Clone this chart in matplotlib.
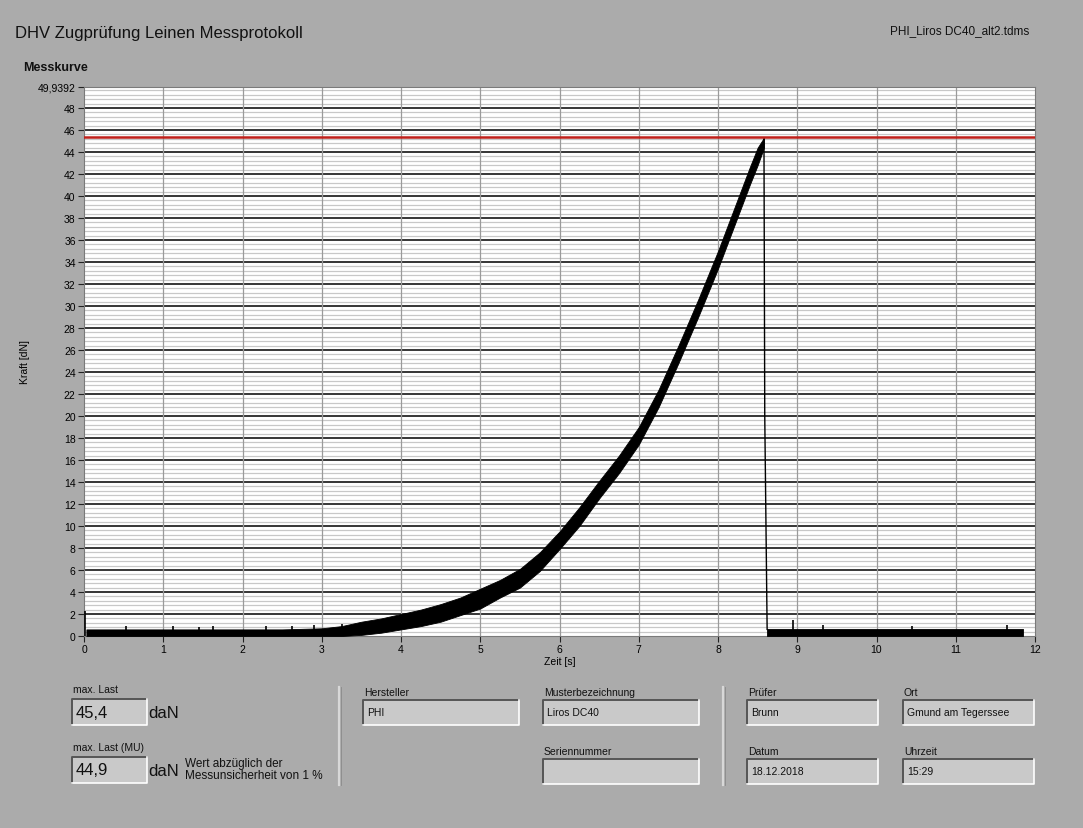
"""DHV Zugprüfung Messprotokoll: Kraft-Zeit-Kurve mit Infofeldern."""

import matplotlib

matplotlib.use("Agg")
import matplotlib.pyplot as plt
from matplotlib.patches import Rectangle

plt.rcParams["font.family"] = ["Liberation Sans", "DejaVu Sans"]

BG = "#ababab"
FIELD = "#c9c9c9"

# force band (lower / upper edge of the noisy band)
band_t = [0.03, 0.5, 1.0, 1.5, 2.0, 2.5, 3.0, 3.25, 3.5, 3.75, 4.0, 4.25,
          4.5, 4.75, 5.0, 5.25, 5.5, 5.75, 6.0, 6.25, 6.5, 6.75, 7.0,
          7.25, 7.5, 7.75, 8.0, 8.2, 8.4, 8.5, 8.58]
band_lo = [0.0, 0.0, 0.0, 0.0, 0.0, 0.0, 0.0, 0.0, 0.1, 0.3, 0.6, 0.9,
           1.3, 1.9, 2.5, 3.5, 4.4, 5.9, 7.9, 10.0, 12.5, 14.8, 17.4,
           20.8, 24.8, 29.0, 33.4, 37.2, 41.0, 42.8, 44.4]
band_hi = [0.6, 0.6, 0.6, 0.6, 0.6, 0.6, 0.7, 0.9, 1.3, 1.6, 2.0, 2.4,
           2.9, 3.5, 4.3, 5.1, 6.1, 7.6, 9.5, 11.7, 14.1, 16.4, 19.0,
           22.4, 26.4, 30.6, 35.0, 38.8, 42.6, 44.4, 45.3]

# drop after break and the residual band
drop_t = [8.58, 8.59, 8.62]
drop_f = [45.2, 20.0, 0.6]
tail_t = [8.62, 11.85]
tail_lo = [0.0, 0.0]
tail_hi = [0.6, 0.6]

# isolated noise spikes above the band
spike_t = [0.01, 0.53, 1.12, 1.45, 1.63, 2.30, 2.63, 2.90, 3.25,
           8.95, 9.33, 10.45, 11.65]
spike_f = [2.3, 0.9, 0.9, 0.8, 0.9, 0.9, 0.9, 1.0, 1.1,
           1.5, 1.0, 0.9, 1.0]

max_last = 45.4
y_top = 49.9392
y_major = list(range(0, 49, 2))
y_minor = [round(0.4 * i, 1) for i in range(125) if i % 5 != 0]
x_ticks = list(range(0, 13))

fields = [
    # label, value, x, y (label top), width
    ("Hersteller", "PHI", 363, 687, 156),
    ("Musterbezeichnung", "Liros DC40", 543, 687, 156),
    ("Seriennummer", "", 543, 746, 156),
    ("Prüfer", "Brunn", 747, 687, 131),
    ("Ort", "Gmund am Tegerssee", 903, 687, 131),
    ("Datum", "18.12.2018", 747, 746, 131),
    ("Uhrzeit", "15:29", 903, 746, 131),
]
loads = [("max. Last", "45,4", 684), ("max. Last (MU)", "44,9", 742)]

W, H = 1083, 829
fig = plt.figure(figsize=(W / 100, H / 100), dpi=100, facecolor=BG)

ax = fig.add_axes([84 / W, 1 - 637 / H, (1035 - 84) / W, (637 - 87.7) / H])
ax.set_facecolor("white")
ax.set_xlim(0, 12)
ax.set_ylim(0, y_top)
for y in y_minor:
    ax.axhline(y, color="#c8c8c8", lw=0.9, zorder=0)
for y in y_major[1:]:
    ax.axhline(y, color="black", lw=1.1, zorder=1)
for x in x_ticks[1:-1]:
    ax.axvline(x, color="#9a9a9a", lw=0.9, zorder=1)

ax.fill_between(band_t, band_lo, band_hi, color="black", lw=0.6, zorder=3)
ax.fill_between(tail_t, tail_lo, tail_hi, color="black", lw=0.6, zorder=3)
ax.plot(drop_t, drop_f, color="black", lw=1.0, zorder=3)
ax.vlines(spike_t, 0, spike_f, color="black", lw=1.2, zorder=3)
ax.axhline(max_last, color="#c0201a", lw=1.8, zorder=4)

ax.set_yticks(y_major + [y_top])
ax.set_yticklabels([str(v) for v in y_major] + ["49,9392"])
ax.set_xticks(x_ticks)
ax.tick_params(labelsize=7.5, length=4, width=0.8, color="#222222", pad=2)
for s in ax.spines.values():
    s.set_color("#7a7a7a")
    s.set_linewidth(0.8)
ax.set_xlabel("Zeit [s]", fontsize=7.5, labelpad=1)
ax.set_ylabel("Kraft [dN]", fontsize=7.5)
ax.yaxis.set_label_coords(-0.057, 0.5)

# overlay in pixel coordinates for the protocol header and info fields
ov = fig.add_axes([0, 0, 1, 1], facecolor="none")
ov.set_xlim(0, W)
ov.set_ylim(H, 0)
ov.axis("off")

ov.text(15, 33, "DHV Zugprüfung Leinen Messprotokoll", fontsize=12,
        va="center", ha="left", color="#111111")
ov.text(890, 31, "PHI_Liros DC40_alt2.tdms", fontsize=8.5, va="center",
        ha="left", color="#111111")
ov.text(23, 68, "Messkurve", fontsize=9, fontweight="bold", va="center",
        ha="left", color="#111111")


def field(x, y, w, h, txt, size):
    ov.add_patch(Rectangle((x, y), w, h, facecolor=FIELD, edgecolor="none"))
    ov.plot([x, x, x + w], [y + h, y, y], color="#555555", lw=1.4)
    ov.plot([x, x + w, x + w], [y + h, y + h, y], color="white", lw=1.2)
    ov.text(x + 4, y + h / 2, txt, fontsize=size, va="center", ha="left",
            color="#111111")


for label, value, x, y in [(l, v, 72, y) for l, v, y in loads]:
    ov.text(x + 1, y + 6, label, fontsize=7.5, va="center", ha="left",
            color="#111111")
    field(x, y + 16, 75, 26, value, 12)
    ov.text(x + 76, y + 30, "daN", fontsize=12, va="center", ha="left",
            color="#111111")
ov.text(185, 770, "Wert abzüglich der\nMessunsicherheit von 1 %",
        fontsize=8.5, va="center", ha="left", color="#111111",
        linespacing=1.05)

for label, value, x, y, w in fields:
    ov.text(x + 1, y + 6, label, fontsize=7.5, va="center", ha="left",
            color="#111111")
    field(x, y + 14, w, 25, value, 7.5)

for sx in (339, 723):
    ov.plot([sx, sx], [688, 786], color="#d8d8d8", lw=1.6)
    ov.plot([sx + 1.5, sx + 1.5], [688, 786], color="#8a8a8a", lw=0.6)

fig.savefig("out.png", dpi=100, facecolor=BG)
